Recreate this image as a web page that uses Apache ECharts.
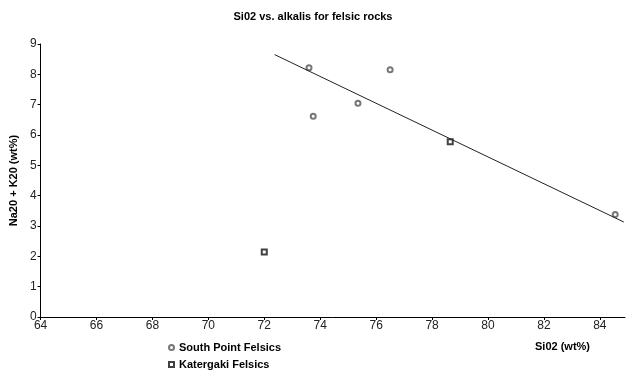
<!DOCTYPE html>
<html>
<head>
<meta charset="utf-8">
<script src="https://cdn.jsdelivr.net/npm/echarts@6/dist/echarts.min.js"></script>
<style>
  html, body { margin: 0; padding: 0; background: #fff; }
  #chart { width: 626px; height: 373px; }
</style>
</head>
<body>
<div id="chart"></div>
<script>
// values
const southPointSiO2 = [73.6, 73.75, 75.35, 76.5, 84.55]
const southPointAlk = [8.22, 6.62, 7.05, 8.15, 3.38]
const katergakiSiO2 = [72.0, 78.65]
const katergakiAlk = [2.14, 5.78]
const trendSiO2 = [72.37, 84.86]
const trendAlk = [8.65, 3.13]

const font = 'Liberation Sans'
const pairs = (xs, ys) => xs.map((x, i) => [x, ys[i]])
const boldText = { fontFamily: font, fontSize: 11, fontWeight: 'bold', color: '#000' }

const chart = echarts.init(document.getElementById('chart'))

chart.setOption({
  backgroundColor: '#fff',
  animation: false,
  title: {
    text: 'Si02 vs. alkalis for felsic rocks',
    left: 'center', top: 6,
    textStyle: boldText
  },
  legend: [
    {
      left: 163, top: 337, itemWidth: 5, itemHeight: 5, itemGap: 8,
      data: [{ name: 'South Point Felsics', icon: 'emptyCircle' }],
      textStyle: boldText
    },
    {
      left: 163, top: 354, itemWidth: 5, itemHeight: 5, itemGap: 8,
      data: [{ name: 'Katergaki Felsics', icon: 'emptyRect' }],
      textStyle: boldText
    }
  ],
  grid: { left: 40, top: 44, right: 1, bottom: 56, containLabel: false },
  xAxis: {
    type: 'value',
    min: 64, max: 84.9, interval: 2,
    axisLine: { lineStyle: { color: '#000', width: 1 } },
    axisTick: { show: true, length: 3, lineStyle: { color: '#000' } },
    axisLabel: {
      fontFamily: font, fontSize: 12, color: '#222', margin: 3,
      showMaxLabel: false
    },
    splitLine: { show: false }
  },
  yAxis: {
    type: 'value',
    min: 0, max: 9, interval: 1,
    name: 'Na20 + K20 (wt%)',
    nameLocation: 'middle', nameRotate: 90, nameGap: 20,
    nameTextStyle: boldText,
    axisLine: { show: true, lineStyle: { color: '#000', width: 1 } },
    axisTick: { show: true, length: 3, lineStyle: { color: '#000' } },
    axisLabel: { fontFamily: font, fontSize: 12, color: '#222', margin: 4 },
    splitLine: { show: false }
  },
  graphic: [{
    type: 'text', left: 535, top: 341,
    style: { text: 'Si02 (wt%)', fontFamily: font, fontSize: 11, fontWeight: 'bold', fill: '#000' }
  }],
  series: [
    {
      name: 'trend',
      type: 'line',
      data: pairs(trendSiO2, trendAlk),
      symbol: 'none',
      lineStyle: { color: '#222', width: 1 },
      silent: true
    },
    {
      name: 'South Point Felsics',
      type: 'scatter',
      data: pairs(southPointSiO2, southPointAlk),
      symbol: 'emptyCircle', symbolSize: 5,
      itemStyle: { color: '#555', borderColor: '#555', borderWidth: 1 }
    },
    {
      name: 'Katergaki Felsics',
      type: 'scatter',
      data: pairs(katergakiSiO2, katergakiAlk),
      symbol: 'emptyRect', symbolSize: 5,
      itemStyle: { color: '#111', borderColor: '#111', borderWidth: 1 }
    }
  ]
})
</script>
</body>
</html>
